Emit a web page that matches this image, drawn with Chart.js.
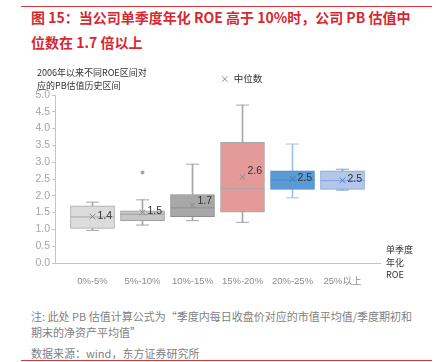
<!DOCTYPE html>
<html>
<head>
<meta charset="utf-8">
<script src="https://cdn.jsdelivr.net/npm/chart.js@4.4.0/dist/chart.umd.min.js"></script>
<style>
  body { margin: 0; width: 436px; height: 362px; background: #fff; position: relative; overflow: hidden;
         font-family: "Noto Sans CJK SC", "Noto Sans", sans-serif; }
  .abs { position: absolute; white-space: nowrap; }
  #topLine { left: 21px; top: 6px; width: 411px; height: 1px; background: #d9363e; }
  #bottomLine { left: 21px; top: 360px; width: 411px; height: 1px; background: #d9363e; }
  .title { left: 31px; color: #d7282f; font-size: 14px; font-weight: bold; line-height: 20px; }
  .note { left: 31px; color: #7f7f7f; font-size: 11px; line-height: 16px; }
  .small { color: #333; font-size: 9px; line-height: 13px; }
  #chartBox { left: 0; top: 60px; width: 436px; height: 230px; }
</style>
</head>
<body>
<div id="topLine" class="abs"></div>
<div class="abs title" style="top:7px">图 15：当公司单季度年化 ROE 高于 10%时，公司 PB 估值中</div>
<div class="abs title" style="top:32px">位数在 1.7 倍以上</div>

<div id="chartBox" class="abs"><canvas id="boxChart"></canvas></div>

<div class="abs small" style="left:37px;top:66px">2006年以来不同ROE区间对</div>
<div class="abs small" style="left:37px;top:79px">应的PB估值历史区间</div>
<div class="abs small" style="left:220px;top:72px;font-size:9.5px"><span style="color:#888">×</span>&nbsp;&nbsp;中位数</div>
<div class="abs small" style="left:386px;top:243px">单季度</div>
<div class="abs small" style="left:386px;top:256px">年化</div>
<div class="abs small" style="left:386px;top:268px">ROE</div>

<div class="abs note" style="top:308px">注: 此处 PB 估值计算公式为“季度内每日收盘价对应的市值平均值/季度期初和</div>
<div class="abs note" style="top:324px">期末的净资产平均值”</div>
<div class="abs note" style="top:345px">数据来源：wind，东方证券研究所</div>
<div id="bottomLine" class="abs"></div>

<script>
// ROE buckets and PB distribution
const categories = ['0%-5%', '5%-10%', '10%-15%', '15%-20%', '20%-25%', '25%以上'];
const whiskerLow = [0.97, 1.13, 1.26, 1.21, 1.94, 2.17];
const q1 = [1.03, 1.26, 1.38, 1.51, 2.19, 2.19];
const medians = [1.37, 1.45, 1.64, 2.22, 2.47, 2.45];
const q3 = [1.70, 1.55, 2.04, 3.59, 2.74, 2.74];
const whiskerHigh = [1.81, 1.88, 2.94, 4.70, 3.54, 2.79];
const means = [1.38, 1.51, 1.72, 2.56, 2.50, 2.46];
const outliers = [{ cat: 1, value: 2.69 }];
const yTicks = [0, 0.5, 1, 1.5, 2, 2.5, 3, 3.5, 4, 4.5, 5];

// colours per bucket
const boxFill = ['#dcdcdc', '#c6c6c6', '#a8a8a8', '#e59a9a', '#5b9bd5', '#b4c7e7'];
const boxLine = ['#a6a6a6', '#a0a0a0', '#8e8e8e', '#a6a6a6', '#4d8dcb', '#7ba3e0'];
const whiskerColor = ['#a6a6a6', '#a6a6a6', '#a6a6a6', '#a6a6a6', '#9dc3e6', '#7ba3e0'];
const meanColor = ['#8a8a8a', '#8a8a8a', '#8a8a8a', '#8a8a8a', '#3f78b4', '#5b86cf'];

const idx = categories.map((c, i) => i);

// Labels next to the mean markers
const meanLabels = {
    id: 'meanLabels',
    afterDatasetsDraw(chart) {
        const meta = chart.getDatasetMeta(5);
        const ctx = chart.ctx;
        ctx.save();
        ctx.font = '10.5px "Liberation Sans", sans-serif';
        ctx.fillStyle = '#333';
        ctx.textBaseline = 'middle';
        meta.data.forEach((pt, i) => {
            const lift = i === 2 ? 4 : (i === 3 ? 6 : 1);
            ctx.fillText(means[i].toFixed(1), pt.x + 5, pt.y - lift);
        });
        ctx.restore();
    }
};

const ctx = document.getElementById('boxChart').getContext('2d');
new Chart(ctx, {
    data: {
        datasets: [
            {
                type: 'bar', order: 6, grouped: false, barThickness: 1,
                data: idx.map(i => ({ x: i, y: [whiskerLow[i], q1[i]] })),
                backgroundColor: whiskerColor, borderWidth: 0,
            },
            {
                type: 'bar', order: 6, grouped: false, barThickness: 1,
                data: idx.map(i => ({ x: i, y: [q3[i], whiskerHigh[i]] })),
                backgroundColor: whiskerColor, borderWidth: 0,
            },
            {
                type: 'bar', order: 5, grouped: false, barThickness: 44,
                data: idx.map(i => ({ x: i, y: [q1[i], q3[i]] })),
                backgroundColor: boxFill, borderColor: boxLine, borderWidth: 1, borderSkipped: false,
            },
            {
                type: 'line', order: 4, showLine: false,
                data: idx.map(i => ({ x: i, y: medians[i] })),
                pointStyle: 'line', pointRadius: 22, pointBorderWidth: 1, pointBorderColor: boxLine,
            },
            {
                type: 'line', order: 4, showLine: false,
                data: idx.map(i => ({ x: i, y: whiskerLow[i] })).concat(idx.map(i => ({ x: i, y: whiskerHigh[i] }))),
                pointStyle: 'line', pointRadius: 6.5, pointBorderWidth: 1,
                pointBorderColor: whiskerColor.concat(whiskerColor),
            },
            {
                type: 'line', order: 1, showLine: false,
                data: idx.map(i => ({ x: i, y: means[i] })),
                pointStyle: 'crossRot', pointRadius: 4, pointBorderWidth: 1, pointBorderColor: meanColor,
            },
            {
                type: 'line', order: 2, showLine: false,
                data: outliers.map(o => ({ x: o.cat, y: o.value })),
                pointStyle: 'circle', pointRadius: 2, pointBackgroundColor: '#a6a6a6', pointBorderWidth: 0,
            },
        ],
    },
    options: {
        responsive: true,
        maintainAspectRatio: false,
        animation: false,
        events: [],
        layout: { padding: { top: 35, right: 56, left: 0, bottom: 0 } },
        plugins: { legend: { display: false }, tooltip: { enabled: false } },
        scales: {
            x: {
                type: 'linear',
                offset: false,
                min: -0.75,
                max: 5.75,
                afterFit: (scale) => { scale.height = 27; },
                afterBuildTicks: (scale) => { scale.ticks = idx.map(i => ({ value: i })); },
                grid: { display: false, offset: false },
                border: { display: true, color: '#c4c4c4' },
                ticks: {
                    autoSkip: false, maxRotation: 0, padding: 5,
                    color: '#8c8c8c',
                    font: { size: 9.5, family: '"Liberation Sans", "Noto Sans CJK SC", sans-serif' },
                    callback: (v) => categories[v],
                },
            },
            y: {
                min: 0,
                max: 5,
                afterFit: (scale) => { scale.width = 55; },
                afterBuildTicks: (scale) => { scale.ticks = yTicks.map(v => ({ value: v })); },
                grid: { drawOnChartArea: false, drawTicks: true, tickLength: 3, color: '#c4c4c4' },
                border: { display: true, color: '#c4c4c4' },
                ticks: {
                    padding: 2,
                    color: '#a6a6a6',
                    font: { size: 10.5, family: '"Liberation Sans", sans-serif' },
                    callback: (v) => v.toFixed(1),
                },
            },
        },
    },
    plugins: [meanLabels],
});
</script>
</body>
</html>
